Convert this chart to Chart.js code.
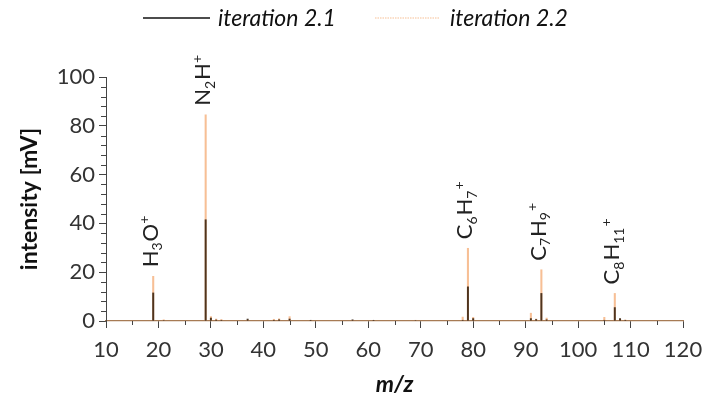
<!DOCTYPE html>
<html>
<head>
<meta charset="utf-8">
<script src="https://cdn.jsdelivr.net/npm/chart.js@4.4.0/dist/chart.umd.min.js"></script>
<style>
  html, body { margin: 0; padding: 0; background: #fff; }
  #wrap { width: 702px; height: 401px; }
</style>
</head>
<body>
<div id="wrap"><canvas id="spectrum"></canvas></div>
<script>
// ----------------------------
// data (m/z, intensity in mV)
// ----------------------------
const mz     = [19, 21, 29, 30, 31, 32, 37, 42, 43, 45, 49, 57, 61, 69, 78, 79, 80, 91, 92, 93, 94, 105, 107, 108, 109];
const iter21 = [11.5, 0.2, 41.5, 1.2, 0.4, 0.3, 0.8, 0.3, 0.5, 0.8, 0.3, 0.5, 0.3, 0.2, 0.3, 14.0, 1.0, 1.0, 0.6, 11.3, 0.5, 0.3, 5.5, 1.0, 0.3];
const iter22 = [18.3, 0.5, 84.5, 1.8, 0.8, 0.6, 0.4, 0.7, 0.9, 1.8, 0.2, 0.3, 0.2, 0.3, 1.6, 29.8, 1.5, 3.2, 0.8, 21.0, 1.2, 1.5, 11.3, 0.8, 0.4];

const seriesNames = ['iteration 2.1', 'iteration 2.2'];
const xTicks = [10, 20, 30, 40, 50, 60, 70, 80, 90, 100, 110, 120];
const yTicks = [0, 20, 40, 60, 80, 100];

// ion labels: [text, 'sub' | 'sup' | '']
const ionLabels = [
  { mz: 19,  parts: [['H', ''], ['3', 'sub'], ['O', ''], ['+', 'sup']] },
  { mz: 29,  parts: [['N', ''], ['2', 'sub'], ['H', ''], ['+', 'sup']] },
  { mz: 79,  parts: [['C', ''], ['6', 'sub'], ['H', ''], ['7', 'sub'], ['+', 'sup']] },
  { mz: 93,  parts: [['C', ''], ['7', 'sub'], ['H', ''], ['9', 'sub'], ['+', 'sup']] },
  { mz: 107, parts: [['C', ''], ['8', 'sub'], ['H', ''], ['11', 'sub'], ['+', 'sup']] }
];

const FONT = 'Lato, "Open Sans", sans-serif';
const TXT = '#333333';
const AXIS = '#444444';
const DARK = 'rgba(35,18,0,0.8)';
const ORANGE = '#f7bf95';

const pts = vals => mz.map((m, i) => ({ x: m, y: vals[i] }));

// ----------------------------
// minor ticks, ion labels, legend
// ----------------------------
const extras = {
  id: 'extras',
  afterDraw(chart) {
    const { ctx, chartArea, scales } = chart;
    const x = scales.x, y = scales.y;
    ctx.save();
    ctx.strokeStyle = AXIS;
    ctx.lineWidth = 1;
    ctx.beginPath();
    for (let v = 15; v < 120; v += 10) {
      const px = Math.round(x.getPixelForValue(v)) + 0.5;
      ctx.moveTo(px, chartArea.bottom);
      ctx.lineTo(px, chartArea.bottom + 4);
    }
    for (let v = 4; v < 100; v += 4) {
      if (v % 20 === 0) continue;
      const py = Math.round(y.getPixelForValue(v)) + 0.5;
      ctx.moveTo(chartArea.left, py);
      ctx.lineTo(chartArea.left - 5, py);
    }
    ctx.stroke();

    // rotated ion labels above each peak
    ionLabels.forEach(lab => {
      const i = mz.indexOf(lab.mz);
      const top = Math.max(iter21[i], iter22[i]);
      const px = x.getPixelForValue(lab.mz) - 3;
      const py = y.getPixelForValue(top) - 9;
      ctx.save();
      ctx.translate(px, py);
      ctx.rotate(-Math.PI / 2);
      ctx.fillStyle = '#222';
      ctx.textAlign = 'left';
      ctx.textBaseline = 'alphabetic';
      let cx = 0;
      lab.parts.forEach(([t, kind]) => {
        let off = 7.5;
        if (kind === '') ctx.font = '22px ' + FONT;
        else ctx.font = '14px ' + FONT;
        if (kind === 'sub') off = 12;
        if (kind === 'sup') off = -1;
        ctx.fillText(t, cx, off);
        cx += ctx.measureText(t).width + (kind === 'sub' ? 1 : 0);
      });
      ctx.restore();
    });

    // legend
    const ly = 18;
    const items = [
      { x0: 143, x1: 210, tx: 218 },
      { x0: 375, x1: 440, tx: 450 }
    ];
    chart.data.datasets.forEach((ds, k) => {
      const it = items[k];
      ctx.beginPath();
      ctx.strokeStyle = k === 0 ? '#111' : ORANGE;
      ctx.lineWidth = k === 0 ? 1.6 : 1.2;
      ctx.setLineDash(k === 0 ? [] : [1.5, 1]);
      ctx.moveTo(it.x0, ly);
      ctx.lineTo(it.x1, ly);
      ctx.stroke();
      ctx.setLineDash([]);
      ctx.fillStyle = '#111';
      ctx.font = 'italic 23px ' + FONT;
      ctx.textAlign = 'left';
      ctx.textBaseline = 'middle';
      ctx.fillText(ds.label, it.tx, ly + 1);
    });
    ctx.restore();
  }
};

new Chart(document.getElementById('spectrum'), {
  type: 'bar',
  data: {
    datasets: [
      { label: seriesNames[0], data: pts(iter21), backgroundColor: DARK, barThickness: 1.3, grouped: false },
      { label: seriesNames[1], data: pts(iter22), backgroundColor: ORANGE, barThickness: 1.4, grouped: false }
    ]
  },
  options: {
    responsive: true,
    maintainAspectRatio: false,
    animation: false,
    layout: { padding: { top: 77, right: 19, left: 0, bottom: 0 } },
    plugins: { legend: { display: false }, tooltip: { enabled: false } },
    scales: {
      x: {
        type: 'linear',
        min: 10, max: 120,
        offset: false,
        afterFit: s => { s.height = 80; s.paddingLeft = 0; s.paddingRight = 0; },
        afterBuildTicks: s => { s.ticks = xTicks.map(v => ({ value: v })); },
        grid: { offset: false, drawOnChartArea: false, tickLength: 7, color: AXIS },
        border: { color: '#a77b55', width: 1.2 },
        ticks: { color: TXT, font: { family: FONT, size: 22 }, padding: 9, maxRotation: 0 },
        title: { display: true, text: 'm/z', color: '#111', font: { family: FONT, size: 23, weight: 'bold', style: 'italic' }, padding: { top: 0, bottom: 3 } }
      },
      y: {
        min: 0, max: 100,
        afterFit: s => { s.width = 106; },
        afterBuildTicks: s => { s.ticks = yTicks.map(v => ({ value: v })); },
        grid: { drawOnChartArea: false, tickLength: 7, color: AXIS },
        border: { color: AXIS, width: 1 },
        ticks: { color: TXT, font: { family: FONT, size: 22 }, padding: 4 },
        title: { display: true, text: 'intensity [mV]', color: '#111', font: { family: FONT, size: 23, weight: 'bold' }, padding: { top: 16, bottom: 0 } }
      }
    }
  },
  plugins: [extras]
});
</script>
</body>
</html>
